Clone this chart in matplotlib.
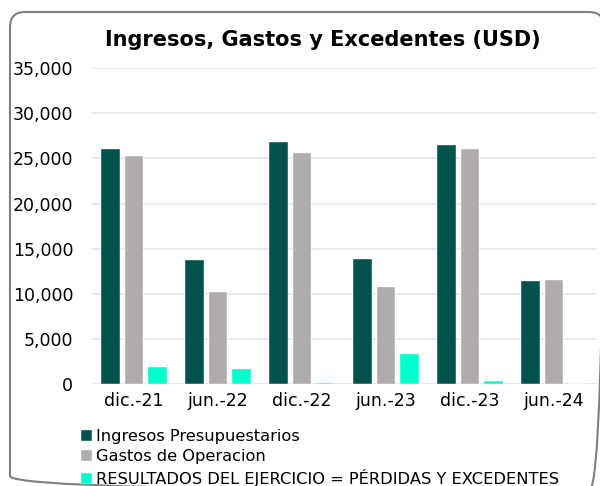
import matplotlib
matplotlib.use("Agg")
import matplotlib.pyplot as plt
import matplotlib.patches as mpatches
from matplotlib.ticker import FuncFormatter, MultipleLocator
import numpy as np

# data
periods = ["dic.-21", "jun.-22", "dic.-22", "jun.-23", "dic.-23", "jun.-24"]
ingresos = [26020, 13710, 26800, 13860, 26530, 11420]
gastos = [25310, 10200, 25580, 10790, 26020, 11500]
resultados = [1850, 1660, 100, 3330, 300, 50]

labels = [
    "Ingresos Presupuestarios",
    "Gastos de Operacion",
    "RESULTADOS DEL EJERCICIO = PÉRDIDAS Y EXCEDENTES",
]
colors = ["#02534B", "#AFACAB", "#00FFCC"]

plt.rcParams["font.family"] = "DejaVu Sans"

W, H = 600, 486
fig = plt.figure(figsize=(W / 100, H / 100), dpi=100, facecolor="white")

# background axes in pixel units, for the rounded chart border
bg = fig.add_axes([0, 0, 1, 1])
bg.set_xlim(0, W)
bg.set_ylim(H, 0)
bg.axis("off")
bg.add_patch(
    mpatches.FancyBboxPatch(
        (10, 12), 594, 479,
        boxstyle="round,pad=0,rounding_size=15",
        facecolor="none", edgecolor="#7f7f7f", linewidth=1.5,
    )
)

ax = fig.add_axes([92 / W, (H - 384) / H, 504 / W, (384 - 68.2) / H])
ax.set_facecolor("none")

x = np.arange(len(periods))
bw = 0.226
step = 0.28
series = [ingresos, gastos, resultados]
bars = []
for i, (vals, c, lab) in enumerate(zip(series, colors, labels)):
    b = ax.bar(x + (i - 1) * step, vals, width=bw, color=c, label=lab,
               edgecolor="white", linewidth=0.3, zorder=3)
    bars.append(b)

ax.set_xlim(-0.5, len(periods) - 0.5)
ax.set_ylim(0, 35000)
ax.yaxis.set_major_locator(MultipleLocator(5000))
ax.yaxis.set_major_formatter(FuncFormatter(lambda v, p: f"{int(v):,}"))
ax.grid(axis="y", color="#E3E7EB", linewidth=1.2, zorder=0)
for s in ax.spines.values():
    s.set_visible(False)
ax.tick_params(axis="both", length=0, labelsize=12.5, colors="black")
ax.tick_params(axis="y", pad=13.5)
ax.tick_params(axis="x", pad=6)
ax.set_xticks(x)
ax.set_xticklabels(periods)

fig.text(323 / W, 1 - 40 / H, "Ingresos, Gastos y Excedentes (USD)",
         ha="center", va="center", fontsize=15, fontweight="bold")

fig.legend(handles=bars, labels=labels, loc="upper left",
           bbox_to_anchor=(81 / W, 1 - 429 / H), frameon=False,
           fontsize=11.7, handlelength=0.65, handleheight=0.65,
           handletextpad=0.3, labelspacing=0.32, borderpad=0, borderaxespad=0)

fig.savefig("out.png", dpi=100, facecolor="white")
